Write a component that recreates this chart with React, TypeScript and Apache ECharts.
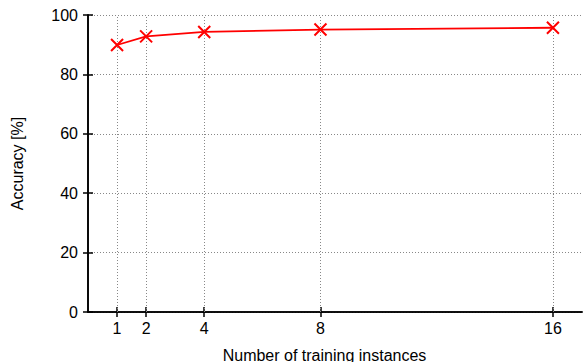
import React, { useEffect, useRef } from "react";
import * as echarts from "echarts";

const instances = [1, 2, 4, 8, 16];
const accuracy = [89.9, 92.8, 94.3, 95.1, 95.7];
const xTicks = [1, 2, 4, 8, 16];
const yTicks = [0, 20, 40, 60, 80, 100];

const FONT = "'Liberation Sans', Arial, Helvetica, sans-serif";

export default function App() {
  const ref = useRef<HTMLDivElement>(null);
  useEffect(() => {
    if (!ref.current) return;
    const chart = echarts.init(ref.current, undefined, { renderer: "svg" });
    const axisLine = { show: true, lineStyle: { color: "#000", width: 1.6 } };
    const gridLine = { show: true, lineStyle: { color: "#888", type: [1, 2] as any, width: 1 } };
    chart.setOption({
      animation: false,
      backgroundColor: "#fff",
      textStyle: { fontFamily: FONT },
      grid: { left: 88, top: 15, right: 2, bottom: 50, containLabel: false },
      xAxis: [
        {
          type: "value",
          min: 0,
          max: 17,
          position: "bottom",
          axisLine,
          axisTick: { show: true, inside: true, length: 5, customValues: xTicks, lineStyle: { color: "#000", width: 1.5 } },
          axisLabel: { customValues: xTicks, color: "#000", fontSize: 16, fontFamily: FONT, margin: 8 },
          splitLine: { show: false },
        },
        {
          type: "value",
          min: 0,
          max: 17,
          position: "top",
          axisLine,
          axisTick: { show: true, inside: true, length: 5, customValues: xTicks, lineStyle: { color: "#000", width: 1.5 } },
          axisLabel: { show: false },
          splitLine: { show: false },
        },
      ],
      yAxis: [
        {
          type: "value",
          min: 0,
          max: 100,
          interval: 20,
          position: "left",
          name: "Accuracy [%]",
          nameLocation: "middle",
          nameGap: 63,
          nameTextStyle: { color: "#000", fontSize: 16, fontFamily: FONT },
          axisLine,
          axisTick: { show: true, inside: true, length: 5, lineStyle: { color: "#000", width: 1.5 } },
          axisLabel: { color: "#000", fontSize: 16, fontFamily: FONT, margin: 10, customValues: yTicks },
          splitLine: gridLine,
        },
        {
          type: "value",
          min: 0,
          max: 100,
          interval: 20,
          position: "right",
          axisLine,
          axisTick: { show: true, inside: true, length: 5, lineStyle: { color: "#000", width: 1.5 } },
          axisLabel: { show: false },
          splitLine: { show: false },
        },
      ],
      graphic: [
        {
          type: "text",
          x: 324.5,
          y: 355,
          style: {
            text: "Number of training instances",
            fill: "#000",
            font: `16px ${FONT}`,
            align: "center",
            verticalAlign: "middle",
          },
        },
      ],
      series: [
        {
          type: "line",
          xAxisIndex: 0,
          yAxisIndex: 0,
          data: instances.map((x, i) => [x, accuracy[i]]),
          lineStyle: { color: "#ff0000", width: 1.8 },
          itemStyle: { color: "#ff0000", borderColor: "#ff0000", borderWidth: 2 },
          symbol: "path://M0 0L10 10M10 0L0 10",
          symbolSize: 12,
          showSymbol: true,
          markLine: {
            silent: true,
            symbol: ["none", "none"],
            label: { show: false },
            lineStyle: { color: "#888", type: [1, 2] as any, width: 1 },
            z: 1,
            data: xTicks.map((v) => ({ xAxis: v })),
          },
        },
      ],
    });
    return () => chart.dispose();
  }, []);
  return (
    <div
      ref={ref}
      style={{ position: "absolute", left: 0, top: 0, width: 584, height: 362 }}
    />
  );
}
